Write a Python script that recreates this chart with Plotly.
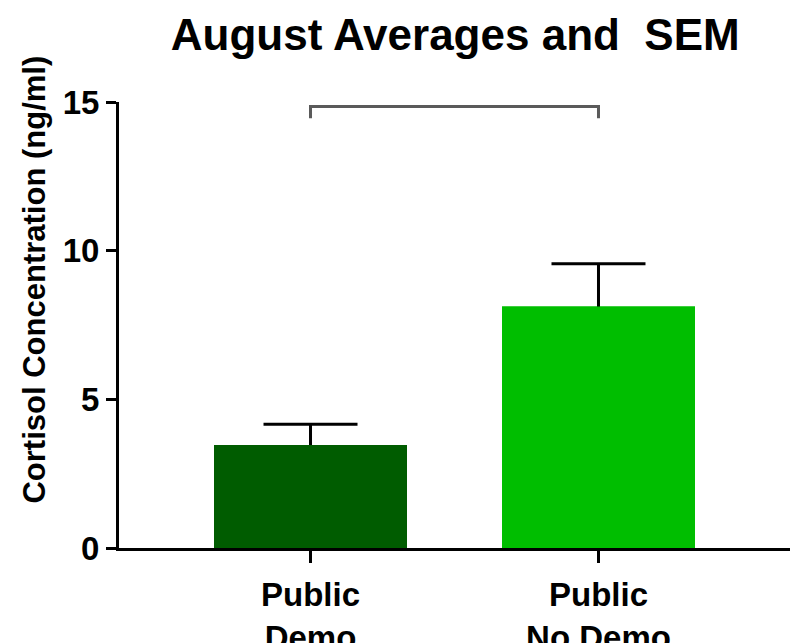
import plotly.graph_objects as go

# ---- data ----
categories = ["Public<br>Demo", "Public<br>No Demo"]
means = [3.46, 8.12]
sem = [0.70, 1.44]
bar_colors = ["#005C00", "#00BE00"]
y_ticks = [0, 5, 10, 15]
bracket_level = 14.85
bracket_tip = 14.45

FONT = "Liberation Sans, Arial, sans-serif"
xpos = list(range(len(categories)))

fig = go.Figure()
# bars carrying the (symmetric) error bars
fig.add_trace(go.Bar(
    x=xpos, y=means,
    marker=dict(color=bar_colors, line=dict(width=0)),
    width=0.67,
    error_y=dict(type="data", array=sem, color="black", thickness=3, width=47),
    showlegend=False,
))
# same bars drawn on top, hiding the lower half of each error bar
fig.add_trace(go.Bar(
    x=xpos, y=means,
    marker=dict(color=bar_colors, line=dict(width=0)),
    width=0.67, showlegend=False,
))
# significance bracket between the two categories
fig.add_trace(go.Scatter(
    x=[xpos[0], xpos[0], xpos[1], xpos[1]],
    y=[bracket_tip, bracket_level, bracket_level, bracket_tip],
    mode="lines", line=dict(color="#5a5a5a", width=3),
    showlegend=False, hoverinfo="skip",
))

fig.update_layout(
    width=793, height=635,
    plot_bgcolor="white", paper_bgcolor="white",
    margin=dict(l=111, r=11, t=94, b=95, autoexpand=False),
    title=dict(text="<b>August Averages and  SEM</b>", x=0.564, xanchor="center",
               y=0.958, yanchor="middle", automargin=False,
               font=dict(family=FONT, size=44, color="black")),
    barmode="overlay",
)
fig.update_xaxes(
    range=[-0.665, 1.665], tickvals=xpos, ticktext=["<b>%s</b>" % c for c in categories],
    showline=True, linecolor="black", linewidth=3,
    ticks="outside", ticklen=12, tickwidth=3, tickcolor="black",
    showgrid=False, zeroline=False, automargin=False, ticklabelstandoff=3,
    tickfont=dict(family=FONT, size=33, color="black"),
)
fig.update_yaxes(
    range=[0, 15], tickvals=y_ticks, ticktext=["<b>%d</b>" % t for t in y_ticks],
    showline=True, linecolor="black", linewidth=3,
    ticks="outside", ticklen=10, tickwidth=3, tickcolor="black",
    showgrid=False, zeroline=False, automargin=False,
    tickfont=dict(family=FONT, size=33, color="black"),
)
fig.add_annotation(
    text="<b>Cortisol Concentration (ng/ml)</b>", textangle=-90,
    xref="paper", yref="paper", x=-0.126, y=0.603, xanchor="center", yanchor="middle",
    showarrow=False, font=dict(family=FONT, size=31, color="black"),
)

fig.write_html("out.html")
